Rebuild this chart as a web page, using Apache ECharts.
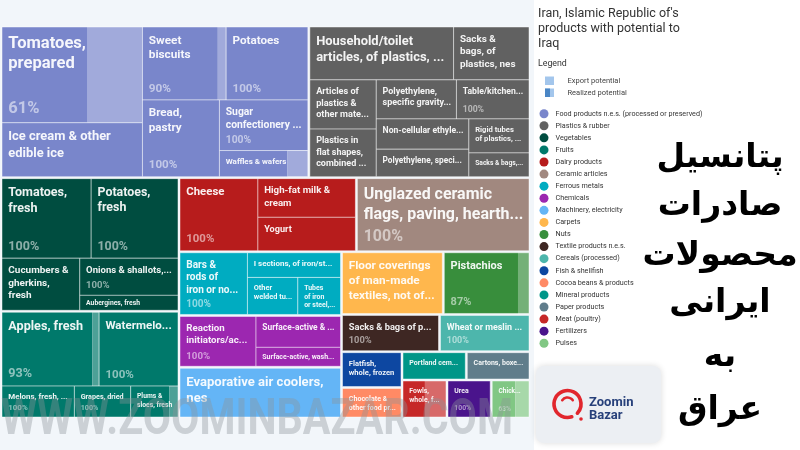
<!DOCTYPE html>
<html><head><meta charset="utf-8">
<script src="https://cdn.jsdelivr.net/npm/echarts@6/dist/echarts.min.js"></script>
<style>
html,body{margin:0;padding:0;}
#c{width:800px;height:450px;background:linear-gradient(to right,#f2f6fa 0,#f2f6fa 534px,#ffffff 534px,#ffffff 800px);}
</style>
</head><body><div id="c"></div>
<script>
// ------------------------------------------------------------------ data
const groupNames = [
  'Food products n.e.s. (processed or preserved)', 'Plastics & rubber', 'Vegetables', 'Fruits',
  'Dairy products', 'Ceramic articles', 'Ferrous metals', 'Chemicals', 'Machinery, electricity',
  'Carpets', 'Nuts', 'Textile products n.e.s.', 'Cereals (processed)', 'Fish & shellfish',
  'Cocoa beans & products', 'Mineral products', 'Paper products', 'Meat (poultry)', 'Fertilizers', 'Pulses'
];
const groupColors = [
  '#7986CB', '#616161', '#004D40', '#00796B', '#B71C1C', '#A1887F', '#00ACC1', '#9C27B0', '#64B5F6',
  '#FFB74D', '#388E3C', '#3E2723', '#4DB6AC', '#0D47A1', '#FF8A65', '#009688', '#607D8B', '#C62828', '#4A148C', '#81C784'
];
// products: group index, name, export potential (estimated, relative units), realized share (%), percentage label shown
const productGroup = [
  0,0,0,0,0,0,0,
  1,1,1,1,1,1,1,1,1,1,
  2,2,2,2,2,
  3,3,3,3,3,
  4,4,4,
  5,
  6,6,6,6,
  7,7,7,
  8, 9, 10, 11, 12, 13, 14, 15, 16, 17, 18, 19
];
const productName = [
  'Tomatoes, prepared', 'Ice cream & other edible ice', 'Sweet biscuits', 'Potatoes', 'Bread, pastry',
  'Sugar confectionery not containing cocoa', 'Waffles & wafers',
  'Household/toilet articles, of plastics, nes', 'Sacks & bags, of plastics, nes',
  'Articles of plastics & other materials, nes', 'Plastics in flat shapes, combined with other materials',
  'Polyethylene, specific gravity < 0.94, in primary forms', 'Table/kitchenware, of plastics',
  'Non-cellular ethylene polymer plates, sheets & film', 'Polyethylene, specific gravity >= 0.94, in primary forms',
  'Rigid tubes of plastics, nes', 'Sacks & bags, of polymers of ethylene',
  'Tomatoes, fresh', 'Potatoes, fresh', 'Cucumbers & gherkins, fresh', 'Onions & shallots, fresh', 'Aubergines, fresh',
  'Apples, fresh', 'Watermelons, fresh', 'Melons, fresh, (excl. watermelons)', 'Grapes, dried', 'Plums & sloes, fresh',
  'Cheese', 'High-fat milk & cream', 'Yogurt',
  'Unglazed ceramic flags, paving, hearth or wall tiles',
  'Bars & rods of iron or non-alloy steel, hot-rolled', 'I sections, of iron/steel, hot-rolled',
  'Other welded tubes, of iron/steel', 'Tubes of iron or steel, welded',
  'Reaction initiators/accelerators', 'Surface-active & washing preparations', 'Surface-active, washing preparations, retail',
  'Evaporative air coolers, nes', 'Floor coverings of man-made textiles, not of pile', 'Pistachios',
  'Sacks & bags of polymers of ethylene strip', 'Wheat or meslin flour', 'Flatfish, whole, frozen',
  'Chocolate & other food preparations containing cocoa', 'Portland cement',
  'Cartons, boxes & cases, of corrugated paper', 'Fowls, whole, frozen', 'Urea', 'Chickpeas, dried'
];
const exportPotential = [
  13718, 7716, 6229, 6079, 6016, 4560, 2352,
  7770, 4075, 3342, 3229, 3199, 2895, 2871, 2596, 2091, 1458,
  7287, 7093, 4155, 3741, 1505,
  7389, 5998, 2306, 1794, 1506,
  5840, 3918, 3387,
  12864,
  4350, 2400, 1950, 1651,
  3988, 2747, 1684,
  8239, 6383, 5436, 3646, 3367, 2166, 1845, 1820, 1803, 1710, 1680, 1474
];
const realizedShare = [
  61, 100, 90, 100, 100, 100, 77,
  100, 100, 100, 100, 100, 100, 100, 100, 100, 100,
  100, 100, 100, 100, 100,
  93, 100, 100, 100, 82,
  100, 100, 100,
  100,
  100, 100, 100, 100,
  100, 100, 100,
  100, 100, 87, 100, 100, 100, 100, 100, 100, 51, 100, 63
];
const realizedLabel = [
  '61%', '', '90%', '100%', '100%', '100%', '',
  '', '', '', '', '', '100%', '', '', '', '',
  '100%', '100%', '', '100%', '',
  '93%', '100%', '100%', '100%', '',
  '100%', '', '',
  '100%',
  '100%', '', '', '',
  '100%', '', '',
  '', '', '87%', '100%', '100%', '', '', '', '', '', '100%', '63%'
];
const titleText = "Iran, Islamic Republic of's\nproducts with potential to\nIraq";
const persianLines = ['پتانسیل', 'صادرات', 'محصولات', 'ایرانی', 'به', 'عراق'];

// ------------------------------------------------------------------ layout (squarified tiling)
const TILE_STRETCH = 2;   // vertical weighting used by the original tiling
function squarify(values, rect) {
  const n = values.length;
  const total = values.reduce((a, b) => a + b, 0);
  const V = {x: 0, y: 0, w: rect.w, h: rect.h * TILE_STRETCH};
  const scale = V.w * V.h / total;
  const areas = values.map(v => v * scale);
  const out = new Array(n);
  let row = [], rowArea = 0, best = Infinity;
  let horiz = V.w <= V.h, L = horiz ? V.w : V.h;
  function worst() {
    let mx = 0, mn = Infinity;
    for (const i of row) { mx = Math.max(mx, areas[i]); mn = Math.min(mn, areas[i]); }
    const s2 = rowArea * rowArea, f = L * L;
    return Math.max(f * mx / s2, s2 / (f * mn));
  }
  function place(flush) {
    if (horiz) {
      let t = flush ? V.h : rowArea / V.w; if (t > V.h) t = V.h;
      let x = V.x;
      for (const i of row) { const w = areas[i] / t; out[i] = {x: x, y: V.y, w: w, h: t}; x += w; }
      V.y += t; V.h -= t;
    } else {
      let t = flush ? V.w : rowArea / V.h; if (t > V.w) t = V.w;
      let y = V.y;
      for (const i of row) { const h = areas[i] / t; out[i] = {x: V.x, y: y, w: t, h: h}; y += h; }
      V.x += t; V.w -= t;
    }
  }
  let i = 0;
  while (i < n) {
    row.push(i); rowArea += areas[i];
    const s = worst();
    if (s <= best) { best = s; i++; }
    else {
      row.pop(); rowArea -= areas[i];
      place(false);
      row = []; rowArea = 0; best = Infinity;
      horiz = V.w <= V.h; L = horiz ? V.w : V.h;
    }
  }
  if (row.length) place(true);
  return out.map(r => ({x: rect.x + r.x, y: rect.y + r.y / TILE_STRETCH, w: r.w, h: r.h / TILE_STRETCH}));
}

const leavesOf = groupNames.map(() => []);
productGroup.forEach((g, i) => leavesOf[g].push(i));
leavesOf.forEach(arr => arr.sort((a, b) => exportPotential[b] - exportPotential[a]));
const groupTotal = leavesOf.map(arr => arr.reduce((s, i) => s + exportPotential[i], 0));
const groupOrder = groupNames.map((_, g) => g).sort((a, b) => groupTotal[b] - groupTotal[a]);
const AREA = {x: 1, y: 26, w: 529, h: 392};
const gRects = squarify(groupOrder.map(g => groupTotal[g]), AREA);
const leafRect = [];
groupOrder.forEach((g, k) => {
  const r = gRects[k];
  const inner = {x: r.x + 1, y: r.y + 1, w: r.w - 2, h: r.h - 2};
  const lr = squarify(leavesOf[g].map(i => exportPotential[i]), inner);
  leavesOf[g].forEach((i, j) => { leafRect[i] = lr[j]; });
});

// ------------------------------------------------------------------ label helpers
const mctx = document.createElement('canvas').getContext('2d');
function tw(s, font) { mctx.font = font; return mctx.measureText(s).width; }
function fitEllipsis(s, font, maxW) {
  if (tw(s, font) <= maxW) return s;
  let t = s;
  while (t.length > 0 && tw(t + '...', font) > maxW) t = t.slice(0, -1);
  return t + '...';
}
function wrap(text, font, maxW, maxLines, fillW) {
  const words = text.split(' ');
  const lines = [];
  let cur = '', wi = 0;
  while (wi < words.length) {
    const cand = cur ? cur + ' ' + words[wi] : words[wi];
    if (tw(cand, font) <= maxW) { cur = cand; wi++; continue; }
    if (!cur || lines.length + 1 >= maxLines) {
      lines.push(fitEllipsis(cur ? cur + ' ' + words.slice(wi).join(' ') : words.slice(wi).join(' '), font, fillW));
      return lines;
    }
    lines.push(cur); cur = '';
  }
  if (cur) lines.push(cur);
  return lines;
}
function mix(hex, t) {
  const n = parseInt(hex.slice(1), 16);
  const c = [(n >> 16) & 255, (n >> 8) & 255, n & 255].map(v => Math.round(v + (255 - v) * t));
  return 'rgb(' + c.join(',') + ')';
}
function textEl(str, x, y, fs, fill) {
  return {type: 'text', x: x, y: y, silent: true,
    style: {text: str, fill: fill, fontSize: fs, fontWeight: 'bold', fontFamily: 'Roboto', align: 'left', verticalAlign: 'middle'}};
}
function leafElements(i) {
  const r = leafRect[i];
  const color = groupColors[productGroup[i]];
  const share = realizedShare[i] / 100;
  const els = [];
  els.push({type: 'rect', shape: {x: r.x, y: r.y, width: r.w * share, height: r.h}, style: {fill: color}});
  if (share < 1) els.push({type: 'rect', shape: {x: r.x + r.w * share, y: r.y, width: r.w * (1 - share), height: r.h}, style: {fill: mix(color, 0.3)}});
  els.push({type: 'rect', shape: {x: r.x, y: r.y, width: r.w, height: r.h}, style: {fill: 'none', stroke: 'rgba(255,255,255,0.45)', lineWidth: 1}});
  const fs = 1.95 + 0.126 * Math.sqrt(r.w * r.h);
  const lh = fs * 1.25;
  const font = 'bold ' + fs + 'px Roboto';
  const padL = 6.3, padR = 10, padT = 6.3, padB = 4;
  const maxW = r.w - padL - padR;
  const fillW = r.w - padL - 5;
  let top = r.y + padT;
  let maxTotal = Math.floor((r.h - padT - padB) / lh);
  if (maxTotal < 1) { maxTotal = r.h >= lh ? 1 : 0; top = r.y + (r.h - lh) / 2; }
  if (maxTotal < 1 || maxW < fs) return els;
  let pct = realizedLabel[i];
  let nameMax = Math.min(3, pct ? maxTotal - 1 : maxTotal);
  if (nameMax < 1) { pct = ''; nameMax = Math.min(3, maxTotal); }
  const lines = wrap(productName[i], font, maxW, nameMax, fillW);
  lines.forEach((ln, k) => els.push(textEl(ln, r.x + padL, top + lh * (k + 0.5), fs, 'rgba(255,255,255,0.93)')));
  if (pct) els.push(textEl(pct, r.x + padL, r.y + r.h - padB - lh / 2, fs, 'rgba(255,255,255,0.55)'));
  return els;
}

// ------------------------------------------------------------------ chart
const chart = echarts.init(document.getElementById('c'));
const series = groupNames.map((name, g) => ({
  type: 'custom', name: name, coordinateSystem: 'none', silent: true, animation: false,
  itemStyle: {color: groupColors[g]},
  data: leavesOf[g].map(i => [i]),
  renderItem: (params, api) => ({type: 'group', children: leafElements(api.value(0))})
}));

const wmFont = 'bold 50px Roboto';
const wmText = 'WWW.ZOOMINBAZAR.COM';
const wmScale = 512 / tw(wmText, wmFont);

const graphics = [
  {type: 'text', left: 538, top: 59, style: {text: 'Legend', fontSize: 8.8, fill: '#333', fontFamily: 'Roboto'}},
  {type: 'rect', shape: {x: 545, y: 76.5, width: 9, height: 8.5}, style: {fill: '#a3c6ec'}},
  {type: 'text', x: 567.5, y: 81, style: {text: 'Export potential', fontSize: 7.5, fill: '#444', fontFamily: 'Roboto', verticalAlign: 'middle'}},
  {type: 'rect', shape: {x: 545, y: 88.5, width: 9, height: 8.5}, style: {fill: '#a3c6ec'}},
  {type: 'rect', shape: {x: 545, y: 88.5, width: 5, height: 8.5}, style: {fill: '#4a86c5'}},
  {type: 'text', x: 567.5, y: 93, style: {text: 'Realized potential', fontSize: 7.5, fill: '#444', fontFamily: 'Roboto', verticalAlign: 'middle'}},
  // watermark
  {type: 'text', x: 1, y: 421, scaleX: wmScale, z: 100, silent: true,
    style: {text: wmText, font: wmFont, fill: 'rgba(140,146,152,0.38)', verticalAlign: 'middle'}},
  // logo card
  {type: 'rect', shape: {x: 536, y: 366, width: 125, height: 77, r: 8}, z: 5,
    style: {fill: '#eceff3', shadowBlur: 6, shadowColor: 'rgba(0,0,0,0.15)'}},
  {type: 'arc', shape: {cx: 567.5, cy: 404, r: 13.5, startAngle: 1.25, endAngle: 0.75 + Math.PI * 2}, z: 6,
    style: {fill: 'none', stroke: '#e1262d', lineWidth: 3.6, lineCap: 'round'}},
  {type: 'arc', shape: {cx: 567.5, cy: 404, r: 6.5, startAngle: Math.PI * 1.2, endAngle: Math.PI * 1.8}, z: 6,
    style: {fill: 'none', stroke: '#e1262d', lineWidth: 2.6, lineCap: 'round'}},
  {type: 'circle', shape: {cx: 581, cy: 419, r: 1.8}, z: 6, style: {fill: '#e1262d'}},
  {type: 'text', x: 589, y: 403, z: 6, style: {text: 'Zoomin', font: 'bold 13px Roboto', fill: '#27407a', verticalAlign: 'middle'}},
  {type: 'text', x: 589, y: 415.5, z: 6, style: {text: 'Bazar', font: 'bold 13px Roboto', fill: '#27407a', verticalAlign: 'middle'}}
];
const persianY = [158, 206, 256, 303, 357, 410];
persianLines.forEach((t, k) => graphics.push({type: 'text', x: 720, y: persianY[k], z: 10,
  style: {text: t, font: 'bold 33px "DejaVu Sans"', fill: '#000', align: 'center', verticalAlign: 'middle'}}));

chart.setOption({
  animation: false,
  title: {text: titleText, left: 538, top: 6.5, padding: 0,
    textStyle: {fontSize: 12.5, fontWeight: 'normal', color: '#333', lineHeight: 15, fontFamily: 'Roboto'}},
  legend: {orient: 'vertical', left: 539.5, top: 109.2, padding: 0, itemWidth: 9, itemHeight: 9, itemGap: 3.08,
    icon: 'circle', selectedMode: false, data: groupNames,
    textStyle: {fontSize: 7.2, color: '#333', fontFamily: 'Roboto', lineHeight: 9, padding: [0, 0, 0, 2]}},
  graphic: graphics,
  series: series
});
</script>
</body></html>
